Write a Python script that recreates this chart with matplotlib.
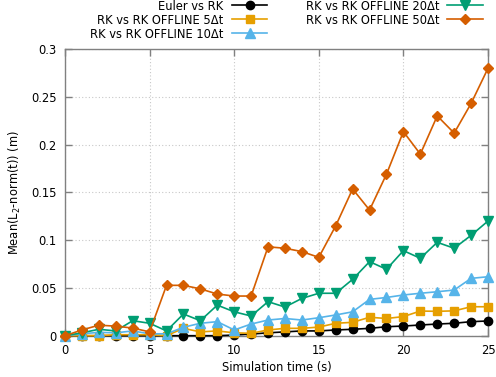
import numpy as np
import matplotlib
matplotlib.use('Agg')
import matplotlib.pyplot as plt
from matplotlib.lines import Line2D
from matplotlib.ticker import FormatStrFormatter

#- Data
time = list(range(0, 26))
euler_rk = [0, 0, 0, 0, 0, 0, 0, 0, 0, 0, 0.0007, 0.0017, 0.003, 0.004, 0.005, 0.005,
            0.006, 0.0067, 0.0077, 0.0094, 0.0101, 0.0112, 0.0122, 0.013, 0.0147, 0.0154]
rk_5dt = [0, 0, 0, 0.001, 0.001, 0.001, 0, 0.0077, 0.004, 0.005, 0.003, 0.0025, 0.006,
          0.0077, 0.0077, 0.009, 0.013, 0.014, 0.0193, 0.018, 0.020, 0.0258, 0.0255,
          0.026, 0.0303, 0.0303]
rk_10dt = [0, 0.002, 0.0035, 0.003, 0.005, 0.002, 0.002, 0.0088, 0.013, 0.0147, 0.006,
           0.0122, 0.0164, 0.018, 0.0164, 0.0188, 0.0217, 0.025, 0.038, 0.040, 0.0426,
           0.0444, 0.046, 0.0478, 0.060, 0.0617]
rk_20dt = [0, 0.003, 0.0067, 0.005, 0.0157, 0.013, 0.005, 0.0227, 0.0157, 0.032, 0.025,
           0.0206, 0.0356, 0.030, 0.039, 0.0444, 0.0444, 0.059, 0.0775, 0.0695, 0.089,
           0.081, 0.0977, 0.0915, 0.105, 0.120]
rk_50dt = [0, 0.006, 0.011, 0.010, 0.008, 0.004, 0.0527, 0.0527, 0.049, 0.0436, 0.0415,
           0.0415, 0.093, 0.0915, 0.088, 0.082, 0.115, 0.1535, 0.1315, 0.169, 0.2135,
           0.190, 0.230, 0.212, 0.243, 0.2798]

labels = ['Euler vs RK', 'RK vs RK OFFLINE 5\u0394t', 'RK vs RK OFFLINE 10\u0394t',
          'RK vs RK OFFLINE 20\u0394t', 'RK vs RK OFFLINE 50\u0394t']
series = [euler_rk, rk_5dt, rk_10dt, rk_20dt, rk_50dt]
colors = ['#000000', '#E69F00', '#56B4E9', '#009E73', '#D55E00']
markers = ['o', 's', '^', 'v', 'D']
msizes = [6, 5.5, 6.5, 6.5, 5.2]

fs = 8.3
W, H = 496, 377
fig = plt.figure(figsize=(W / 100, H / 100), dpi=100)
ax = fig.add_axes([65 / W, (H - 335.7) / H, (488 - 65) / W, (335.7 - 49) / H])

for y, c, m, ms in zip(series, colors, markers, msizes):
    ax.plot(time, y, color=c, marker=m, markersize=ms, linewidth=1.2, clip_on=False, zorder=3)

ax.set_xlim(0, 25)
ax.set_ylim(0, 0.3)
ax.set_xticks(np.arange(0, 26, 5))
ax.set_yticks(np.arange(0, 0.301, 0.05))
ax.yaxis.set_major_formatter(FormatStrFormatter('%g'))
ax.grid(True, color='#c8c8c8', linestyle=(0, (1, 2)), linewidth=0.8)
ax.set_axisbelow(True)
for s in ax.spines.values():
    s.set_color('#808080')
    s.set_linewidth(1.0)
ax.tick_params(direction='in', length=5, width=1.0, color='#808080', labelsize=fs,
               top=True, right=True, pad=6)
ax.set_xlabel('Simulation time (s)', fontsize=fs, labelpad=3)
ax.set_ylabel('Mean(L$_2$-norm(t)) (m)', fontsize=fs, labelpad=6)

#- gnuplot-style key above the plot: text right-aligned, sample on the right
cols = [(223, 232, 267), (439, 447, 483)]
rows = [5, 19, 33.3]
slots = [(0, 0), (0, 1), (0, 2), (1, 0), (1, 1)]
for (ci, ri), lab, c, m, ms in zip(slots, labels, colors, markers, msizes):
    tx, l0, l1 = cols[ci]
    yy = 1 - rows[ri] / H
    fig.text(tx / W, 1 - (rows[ri] + 4.8) / H, lab, ha='right', va='baseline', fontsize=fs)
    fig.add_artist(Line2D([l0 / W, (l0 + l1) / 2 / W, l1 / W], [yy, yy, yy],
                          color=c, marker=m, markersize=ms, markevery=[1],
                          linewidth=1.2, transform=fig.transFigure))

plt.savefig('out.png', dpi=100)
